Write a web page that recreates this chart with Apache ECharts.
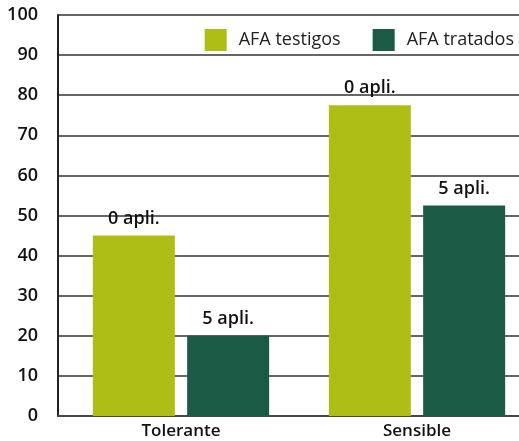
<!DOCTYPE html>
<html>
<head>
<meta charset="utf-8">
<script src="https://cdn.jsdelivr.net/npm/echarts@6/dist/echarts.min.js"></script>
<style>
  html, body { margin: 0; padding: 0; background: #fff; }
  #chart { width: 519px; height: 441px; }
</style>
</head>
<body>
<div id="chart"></div>
<script>
const categories = ['Tolerante', 'Sensible']
const testigos = [45, 77.5]
const tratados = [20, 52.5]
const testigosLabel = '0 apli.'
const tratadosLabel = '5 apli.'

const FONT = '"Open Sans", sans-serif'

const chart = echarts.init(document.getElementById('chart'))

const barLabel = (text) => ({
  show: true,
  position: 'top',
  distance: 8,
  formatter: text,
  fontSize: 18,
  fontWeight: 600,
  color: '#111',
  fontFamily: FONT
})

// grid 0: frame, gridlines and y labels; grid 1: the bars (groups sit a bit right of centre)
chart.setOption({
  animation: false,
  textStyle: { fontFamily: FONT },
  legend: {
    data: ['AFA testigos', 'AFA tratados'],
    right: 0,
    top: 24,
    itemWidth: 22,
    itemHeight: 22,
    itemGap: 32,
    icon: 'rect',
    textStyle: { fontSize: 18, color: '#222', fontFamily: FONT, padding: [0, 0, 0, 7] }
  },
  grid: [
    { left: 58, top: 15, width: 477, bottom: 25, outerBoundsMode: 'none' },
    { left: 63, top: 15, width: 472, bottom: 25, outerBoundsMode: 'none' }
  ],
  xAxis: [
    {
      gridIndex: 0,
      type: 'category',
      data: categories,
      axisLine: { lineStyle: { color: '#444', width: 2 } },
      axisTick: { show: false },
      axisLabel: { show: false }
    },
    {
      gridIndex: 1,
      type: 'category',
      data: categories,
      axisLine: { show: false },
      axisTick: { show: false },
      axisLabel: { fontSize: 17, fontWeight: 600, color: '#111', margin: 7, fontFamily: FONT }
    }
  ],
  yAxis: [
    {
      gridIndex: 0,
      type: 'value',
      min: 0,
      max: 100,
      interval: 10,
      axisLine: { show: true, lineStyle: { color: '#222', width: 2 } },
      axisTick: { show: false },
      axisLabel: { fontSize: 18, fontWeight: 600, color: '#111', margin: 20, fontFamily: FONT },
      splitLine: { lineStyle: { color: '#333', width: 1.5 } }
    },
    {
      gridIndex: 1,
      type: 'value',
      min: 0,
      max: 100,
      interval: 10,
      show: false
    }
  ],
  series: [
    {
      name: 'AFA testigos',
      type: 'bar',
      xAxisIndex: 1,
      yAxisIndex: 1,
      data: testigos,
      barWidth: 82,
      barGap: '15%',
      itemStyle: { color: '#AFBE16' },
      label: barLabel(testigosLabel)
    },
    {
      name: 'AFA tratados',
      type: 'bar',
      xAxisIndex: 1,
      yAxisIndex: 1,
      data: tratados,
      barWidth: 82,
      itemStyle: { color: '#1B5B45' },
      label: barLabel(tratadosLabel)
    }
  ]
})
</script>
</body>
</html>
